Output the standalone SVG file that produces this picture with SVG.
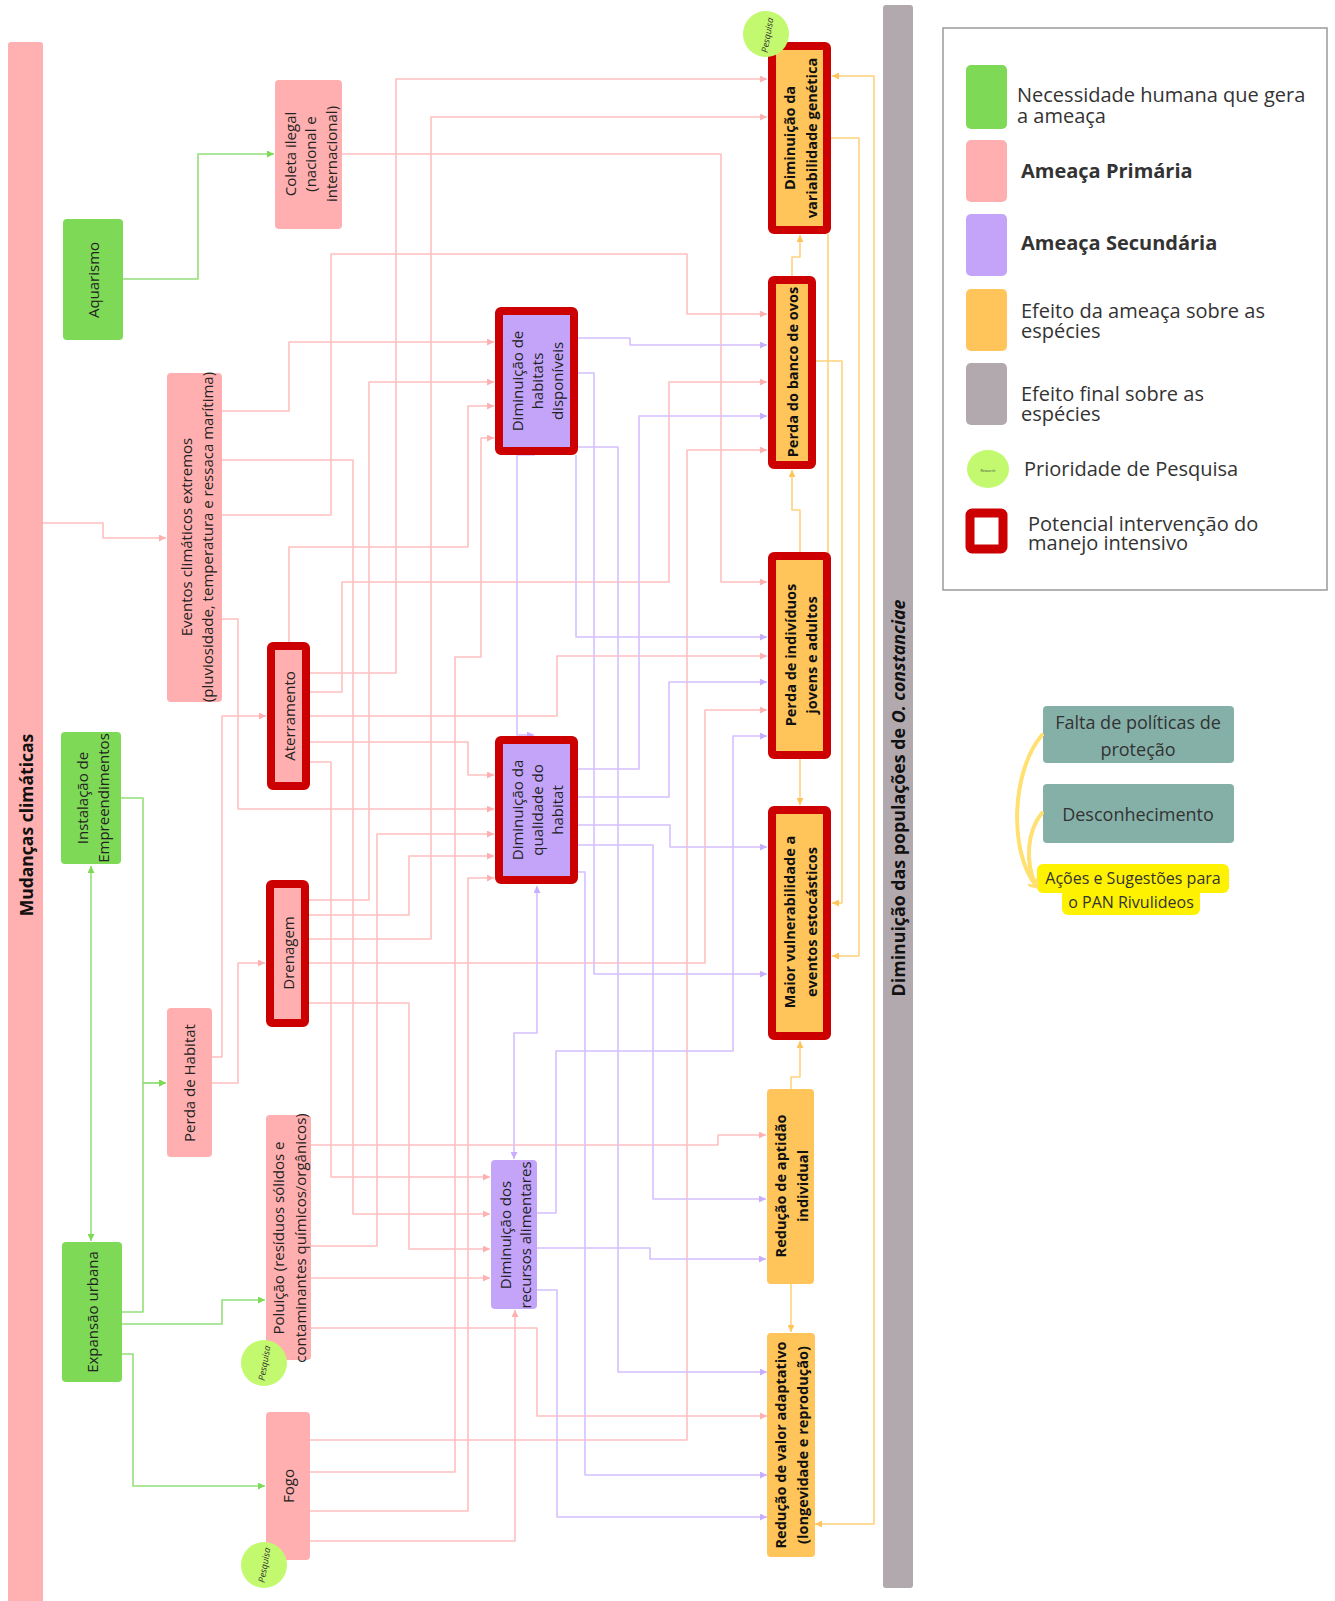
<svg xmlns="http://www.w3.org/2000/svg" width="1335" height="1601" viewBox="0 0 1335 1601">
<style>
.p{fill:none;stroke:#FFC0C0;stroke-width:1.6;marker-end:url(#mp)}
.u{fill:none;stroke:#D5C0FF;stroke-width:1.6;marker-end:url(#mu)}
.o{fill:none;stroke:#FFD27E;stroke-width:1.6;marker-end:url(#mo)}
.g{fill:none;stroke:#93E07C;stroke-width:1.6;marker-end:url(#mg)}
.t{font-family:"Open Sans","DejaVu Sans",sans-serif;font-size:15px;fill:#222;text-anchor:middle;dominant-baseline:central}
.b{font-weight:bold;font-size:14.5px;fill:#111}
.nG{fill:#7ED957}
.nP{fill:#FFAFAF}
.nU{fill:#C3A4F9}
.nO{fill:#FFC55A}
.red{stroke:#CC0000;stroke-width:8}
.lg{font-family:"Open Sans","DejaVu Sans",sans-serif;font-size:20px;fill:#333}
.pq{fill:#C3F96F}
.pqt{font-family:"Open Sans","DejaVu Sans",sans-serif;font-size:9px;font-style:italic;fill:#333;text-anchor:middle;dominant-baseline:central}
</style>
<defs>
<marker id="mp" viewBox="0 0 8 8" refX="8" refY="4" markerWidth="7" markerHeight="7" markerUnits="userSpaceOnUse" orient="auto-start-reverse"><path d="M0,0 L8,4 L0,8 z" fill="#FFB0B0"/></marker>
<marker id="mu" viewBox="0 0 8 8" refX="8" refY="4" markerWidth="7" markerHeight="7" markerUnits="userSpaceOnUse" orient="auto-start-reverse"><path d="M0,0 L8,4 L0,8 z" fill="#C9ADFF"/></marker>
<marker id="mo" viewBox="0 0 8 8" refX="8" refY="4" markerWidth="7" markerHeight="7" markerUnits="userSpaceOnUse" orient="auto-start-reverse"><path d="M0,0 L8,4 L0,8 z" fill="#FFC55A"/></marker>
<marker id="mg" viewBox="0 0 8 8" refX="8" refY="4" markerWidth="7" markerHeight="7" markerUnits="userSpaceOnUse" orient="auto-start-reverse"><path d="M0,0 L8,4 L0,8 z" fill="#7ED957"/></marker>
<marker id="my" viewBox="0 0 10 10" refX="5" refY="5" markerWidth="12" markerHeight="12" markerUnits="userSpaceOnUse" orient="auto"><path d="M0,0 L6,5 L0,10" fill="none" stroke="#FFE070" stroke-width="2.5"/></marker>
</defs>
<rect width="1335" height="1601" fill="#fff"/>

<g id="connectors" stroke-linejoin="round">
<!-- green -->
<path class="g" d="M123,279 H198 V154 H274"/>
<path class="g" d="M121,798 H143 V1083 H166"/>
<path class="g" d="M122,1312 H143 V1083 H166"/>
<path class="g" d="M122,1324 H222 V1300 H265"/>
<path class="g" d="M122,1354 H133 V1486 H265"/>
<path class="g" d="M91,866 V1241" style="marker-start:url(#mg)"/>
<!-- pink -->
<path class="p" d="M43,523 H103 V538 H166"/>
<path class="p" d="M342,154 H721 V582 H767"/>
<path class="p" d="M222,411 H289 V342 H494"/>
<path class="p" d="M222,460 H353 V1214 H490"/>
<path class="p" d="M222,515 H331 V254 H687 V314 H767"/>
<path class="p" d="M222,619 H238 V809 H494"/>
<path class="p" d="M289,642 V547 H468 V406 H494"/>
<path class="p" d="M310,673 H396 V79 H767"/>
<path class="p" d="M310,692 H342 V582 H669 V382 H767"/>
<path class="p" d="M310,716 H557 V656 H767"/>
<path class="p" d="M310,742 H468 V775 H494"/>
<path class="p" d="M310,762 H331 V1177 H490"/>
<path class="p" d="M212,1057 H222 V716 H266"/>
<path class="p" d="M212,1083 H238 V963 H265"/>
<path class="p" d="M309,900 H369 V382 H494"/>
<path class="p" d="M309,915 H409 V856 H494"/>
<path class="p" d="M309,939 H431 V117 H767"/>
<path class="p" d="M309,963 H705 V710 H767"/>
<path class="p" d="M309,1003 H409 V1249 H490"/>
<path class="p" d="M311,1145 H718 V1135 H766"/>
<path class="p" d="M311,1246 H377 V834 H494"/>
<path class="p" d="M311,1278 H490"/>
<path class="p" d="M311,1328 H537 V1416 H767"/>
<path class="p" d="M310,1440 H687 V450 H767"/>
<path class="p" d="M310,1472 H455 V657 H481 V438 H494"/>
<path class="p" d="M310,1511 H468 V878 H494"/>
<path class="p" d="M310,1541 H515 V1310"/>
<!-- purple -->
<path class="u" d="M578,338 H630 V345 H767"/>
<path class="u" d="M578,373 H594 V974 H767"/>
<path class="u" d="M578,447 H618 V1372 H767"/>
<path class="u" d="M576,455 V637 H767"/>
<path class="u" d="M535,455 H517 V735 H534"/>
<path class="u" d="M578,769 H639 V416 H767"/>
<path class="u" d="M578,797 H669 V682 H767"/>
<path class="u" d="M578,825 H670 V847 H767"/>
<path class="u" d="M578,845 H653 V1199 H766"/>
<path class="u" d="M578,872 H585 V1475 H767"/>
<path class="u" d="M514,1159 V1033 H537 V886" style="marker-start:url(#mu)"/>
<path class="u" d="M537,1213 H556 V1051 H733 V736 H767"/>
<path class="u" d="M537,1248 H650 V1259 H766"/>
<path class="u" d="M537,1290 H557 V1517 H767"/>
<!-- orange -->
<path class="o" d="M792,276 V257 H800 V235"/>
<path class="o" d="M800,552 V510 H792 V470"/>
<path class="o" d="M800,759 V805"/>
<path class="o" d="M791,1089 V1077 H800 V1041"/>
<path class="o" d="M791,1284 V1332"/>
<path class="o" d="M831,138 H859 V956 H832"/>
<path class="o" d="M816,361 H842 V903 H832"/>
<path class="o" d="M828,234 V640" style="marker-end:none"/>
<path class="o" d="M815,1524 H874 V76 H832" style="marker-start:url(#mo)"/>
</g>

<rect x="8" y="42" width="35" height="1570" rx="3" fill="#FFB0B0"/>
<text class="t" transform="translate(26,825) rotate(-90)" style="font-weight:bold;font-size:17.5px;fill:#111">Mudanças climáticas</text>

<rect x="883" y="5" width="30" height="1583" rx="3" fill="#B2A9AE"/>
<text class="t" transform="translate(898,798) rotate(-90)" style="font-weight:bold;font-size:17.8px;fill:#111">Diminuição das populações de <tspan font-style="italic">O. constanciae</tspan></text>

<g id="aquarismo"><rect class="nG" x="63" y="219" width="60" height="121" rx="4"/><text class="t" transform="translate(93,280) rotate(-90)">Aquarismo</text></g>
<g id="instalacao"><rect class="nG" x="61" y="732" width="60" height="132" rx="4"/><text class="t" transform="translate(92.5,798) rotate(-90)"><tspan x="0" dy="-10.5">Instalação de</tspan><tspan x="0" dy="21">Empreendimentos</tspan></text></g>
<g id="expansao"><rect class="nG" x="62" y="1242" width="60" height="140" rx="4"/><text class="t" transform="translate(92,1312) rotate(-90)">Expansão urbana</text></g>

<g id="coleta"><rect class="nP" x="275" y="80" width="67" height="149" rx="4"/><text class="t" transform="translate(310,154) rotate(-90)"><tspan x="0" dy="-20.5">Coleta ilegal</tspan><tspan x="0" dy="20.5">(nacional e</tspan><tspan x="0" dy="20.5">internacional)</tspan></text></g>
<g id="eventos"><rect class="nP" x="167" y="373" width="55" height="329" rx="4"/><text class="t" transform="translate(196,537) rotate(-90)"><tspan x="0" dy="-10.5">Eventos climáticos extremos</tspan><tspan x="0" dy="21">(pluviosidade, temperatura e ressaca marítima)</tspan></text></g>
<g id="perdahabitat"><rect class="nP" x="167" y="1008" width="45" height="149" rx="4"/><text class="t" transform="translate(189,1083) rotate(-90)">Perda de Habitat</text></g>
<g id="poluicao"><rect class="nP" x="266" y="1115" width="45" height="245" rx="4"/><text class="t" transform="translate(289,1238) rotate(-90)"><tspan x="0" dy="-11">Poluição (resíduos sólidos e</tspan><tspan x="0" dy="22">contaminantes químicos/orgânicos)</tspan></text></g>
<g id="fogo"><rect class="nP" x="266" y="1412" width="44" height="148" rx="4"/><text class="t" transform="translate(288,1486) rotate(-90)">Fogo</text></g>
<g id="aterramento"><rect class="nP red" x="271" y="646" width="35" height="140" rx="2"/><text class="t" transform="translate(289,716) rotate(-90)">Aterramento</text></g>
<g id="drenagem"><rect class="nP red" x="270" y="884" width="35" height="139" rx="2"/><text class="t" transform="translate(288,953) rotate(-90)">Drenagem</text></g>

<g id="habitats"><rect class="nU red" x="499" y="311" width="75" height="140" rx="2"/><text class="t" transform="translate(537,381) rotate(-90)"><tspan x="0" dy="-20">Diminuição de</tspan><tspan x="0" dy="20">habitats</tspan><tspan x="0" dy="20">disponíveis</tspan></text></g>
<g id="qualidade"><rect class="nU red" x="499" y="740" width="75" height="140" rx="2"/><text class="t" transform="translate(537,810) rotate(-90)"><tspan x="0" dy="-20">Diminuição da</tspan><tspan x="0" dy="20">qualidade do</tspan><tspan x="0" dy="20">habitat</tspan></text></g>
<g id="recursos"><rect class="nU" x="491" y="1160" width="46" height="149" rx="4"/><text class="t" transform="translate(515,1235) rotate(-90)"><tspan x="0" dy="-10">Diminuição dos</tspan><tspan x="0" dy="20">recursos alimentares</tspan></text></g>

<g id="variabilidade"><rect class="nO red" x="772" y="46" width="55" height="184" rx="2"/><text class="t b" transform="translate(800,138) rotate(-90)"><tspan x="0" dy="-11">Diminuição da</tspan><tspan x="0" dy="22">variabilidade genética</tspan></text></g>
<g id="banco"><rect class="nO red" x="772" y="280" width="40" height="185" rx="2"/><text class="t b" transform="translate(792,372) rotate(-90)">Perda do banco de ovos</text></g>
<g id="individuos"><rect class="nO red" x="772" y="556" width="55" height="199" rx="2"/><text class="t b" transform="translate(800,655) rotate(-90)"><tspan x="0" dy="-10.5">Perda de indivíduos</tspan><tspan x="0" dy="21">jovens e adultos</tspan></text></g>
<g id="vulnerabilidade"><rect class="nO red" x="772" y="810" width="55" height="226" rx="2"/><text class="t b" transform="translate(800,922) rotate(-90)"><tspan x="0" dy="-11">Maior vulnerabilidade a</tspan><tspan x="0" dy="22">eventos estocásticos</tspan></text></g>
<g id="aptidao"><rect class="nO" x="767" y="1089" width="47" height="195" rx="4"/><text class="t b" transform="translate(791,1186) rotate(-90)"><tspan x="0" dy="-11">Redução de aptidão</tspan><tspan x="0" dy="22">individual</tspan></text></g>
<g id="valor"><rect class="nO" x="767" y="1333" width="48" height="224" rx="4"/><text class="t b" transform="translate(791,1445) rotate(-90)"><tspan x="0" dy="-11">Redução de valor adaptativo</tspan><tspan x="0" dy="22">(longevidade e reprodução)</tspan></text></g>

<g id="pesquisa1"><circle class="pq" cx="766" cy="34" r="23"/><text class="pqt" transform="translate(767,35) rotate(-80)">Pesquisa</text></g>
<g id="pesquisa2"><circle class="pq" cx="264" cy="1363" r="23"/><text class="pqt" transform="translate(264,1363) rotate(-80)">Pesquisa</text></g>
<g id="pesquisa3"><circle class="pq" cx="264" cy="1565" r="23"/><text class="pqt" transform="translate(264,1565) rotate(-80)">Pesquisa</text></g>

<g id="legend">
<rect x="943" y="28" width="384" height="562" fill="#fff" stroke="#9a9a9a" stroke-width="1.5"/>
<rect x="966" y="65" width="41" height="64" rx="5" class="nG"/>
<text class="lg" x="1017" y="102"><tspan x="1017">Necessidade humana que gera</tspan><tspan x="1017" dy="21">a ameaça</tspan></text>
<rect x="966" y="140" width="41" height="62" rx="5" class="nP"/>
<text class="lg" x="1021" y="178" font-weight="bold" fill="#111">Ameaça Primária</text>
<rect x="966" y="214" width="41" height="62" rx="5" class="nU"/>
<text class="lg" x="1021" y="250" font-weight="bold" fill="#111">Ameaça Secundária</text>
<rect x="966" y="289" width="41" height="62" rx="5" class="nO"/>
<text class="lg" x="1021" y="318"><tspan x="1021">Efeito da ameaça sobre as</tspan><tspan x="1021" dy="20">espécies</tspan></text>
<rect x="966" y="363" width="41" height="62" rx="5" fill="#B2A9AE"/>
<text class="lg" x="1021" y="401"><tspan x="1021">Efeito final sobre as</tspan><tspan x="1021" dy="20">espécies</tspan></text>
<ellipse cx="988" cy="469" rx="21" ry="19" class="pq"/>
<text x="988" y="470" font-family="Open Sans, sans-serif" font-size="3.5" text-anchor="middle" dominant-baseline="central" fill="#444">Research</text>
<text class="lg" x="1024" y="476">Prioridade de Pesquisa</text>
<rect x="970" y="513" width="33" height="36" rx="2" fill="#fff" stroke="#CC0000" stroke-width="9"/>
<text class="lg" x="1028" y="531"><tspan x="1028">Potencial intervenção do</tspan><tspan x="1028" dy="19">manejo intensivo</tspan></text>
</g>

<g id="falta"><rect x="1043" y="706" width="191" height="57" rx="4" fill="#85B0A8"/><text class="t" style="font-size:18px;fill:#333"><tspan x="1138" y="722">Falta de políticas de</tspan><tspan x="1138" y="749">proteção</tspan></text></g>
<g id="desconhecimento"><rect x="1043" y="784" width="191" height="59" rx="4" fill="#85B0A8"/><text class="t" x="1138" y="814" style="font-size:18px;fill:#333">Desconhecimento</text></g>
<g id="acoes">
<rect x="1037" y="864" width="192" height="29" rx="6" fill="#FFF200"/>
<rect x="1062" y="888" width="138" height="27" rx="6" fill="#FFF200"/>
<text class="t" style="font-size:16px;fill:#333"><tspan x="1133" y="878">Ações e Sugestões para</tspan><tspan x="1131" y="902">o PAN Rivulideos</tspan></text>
</g>
<g id="yellowlinks" fill="none" stroke="#FFE070" stroke-width="4" stroke-linecap="round">
<path d="M1042,735 C1012,770 1008,850 1036,886" marker-end="url(#my)"/>
<path d="M1042,813 C1028,830 1024,860 1036,886"/>
</g>
</svg>
